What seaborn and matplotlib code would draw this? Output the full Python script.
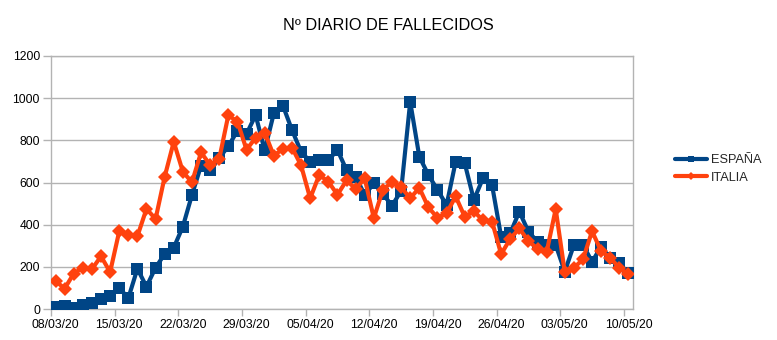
import matplotlib
matplotlib.use("Agg")
import matplotlib.pyplot as plt
import seaborn as sns
import pandas as pd
import numpy as np

# ---------------- data ----------------
dates = pd.date_range("2020-03-08", "2020-05-10", freq="D")
date_labels = [d.strftime("%d/%m/%y") for d in dates]

espana = [8, 16, 6, 19, 30, 47, 62, 101, 51, 191, 106, 196, 261, 291, 391, 541,
          680, 658, 716, 772, 845, 830, 920, 752, 928, 965, 849, 746, 699, 705,
          706, 754, 659, 628, 541, 596, 545, 490, 560, 983, 723, 636, 565, 493,
          699, 691, 517, 620, 588, 343, 359, 462, 367, 319, 304, 304, 177, 304,
          304, 224, 296, 240, 217, 169]

italia = [133, 97, 168, 196, 189, 250, 175, 368, 349, 345, 475, 427, 627, 793,
          651, 601, 743, 683, 712, 919, 889, 756, 812, 837, 727, 760, 766, 681,
          525, 636, 604, 542, 610, 570, 619, 431, 566, 602, 578, 525, 575, 482,
          433, 454, 534, 437, 464, 420, 415, 260, 333, 382, 323, 285, 269, 474,
          174, 195, 236, 369, 274, 243, 194, 165]

series_names = ["ESPAÑA", "ITALIA"]
title = "Nº DIARIO DE FALLECIDOS"
y_ticks = [0, 200, 400, 600, 800, 1000, 1200]

df = pd.DataFrame({"idx": np.arange(len(dates)), "ESPAÑA": espana, "ITALIA": italia})

# ---------------- style ----------------
sns.set_theme(style="white")
plt.rcParams["font.family"] = ["Liberation Sans", "DejaVu Sans"]

fig = plt.figure(figsize=(7.77, 3.40), dpi=100)
ax = fig.add_axes([51 / 777, 1 - 309 / 340, (633 - 51) / 777, (309 - 56) / 340])

grid_col = "#b3b3b3"
sns.lineplot(data=df, x="idx", y="ESPAÑA", ax=ax, color="#004586", linewidth=3.0,
             marker="s", markersize=8.0, markeredgewidth=0, label=series_names[0], zorder=3)
sns.lineplot(data=df, x="idx", y="ITALIA", ax=ax, color="#ff420e", linewidth=3.0,
             marker="D", markersize=6.8, markeredgewidth=0, label=series_names[1], zorder=4)

ax.set_xlim(-0.5, len(dates) - 0.5)
ax.set_ylim(0, 1200)
ax.set_yticks(y_ticks)
ax.set_yticklabels([str(v) for v in y_ticks])
ax.yaxis.grid(True, color=grid_col, linewidth=1.0)
ax.set_axisbelow(True)

major = list(range(0, len(dates), 7))
ax.set_xticks(major)
ax.set_xticklabels([date_labels[i] for i in major])
ax.set_xticks([i - 0.5 for i in range(0, len(dates), 7)], minor=True)
ax.tick_params(axis="x", which="major", length=0, pad=7, labelsize=8.7, colors="black")
ax.tick_params(axis="x", which="minor", length=5, width=1, color=grid_col, direction="out", bottom=True)
ax.tick_params(axis="y", which="major", length=6, width=1, color=grid_col, pad=2,
               labelsize=8.7, labelcolor="black", left=True)
ax.set_xlabel("")
ax.set_ylabel("")

for s in ax.spines.values():
    s.set_visible(True)
    s.set_color(grid_col)
    s.set_linewidth(1.0)

fig.text(388 / 777, 1 - 25 / 340, title, ha="center", va="center", fontsize=11.7, color="black")

handles, labels = ax.get_legend_handles_labels()
ax.get_legend().remove()
leg = fig.legend(handles, labels, loc="center left", bbox_to_anchor=(670 / 777, 1 - 169 / 340),
                 frameon=False, fontsize=9.2, handlelength=2.5, handletextpad=0.3,
                 borderaxespad=0, labelspacing=0.45, markerscale=0.6)

fig.savefig("out.png", dpi=100)
